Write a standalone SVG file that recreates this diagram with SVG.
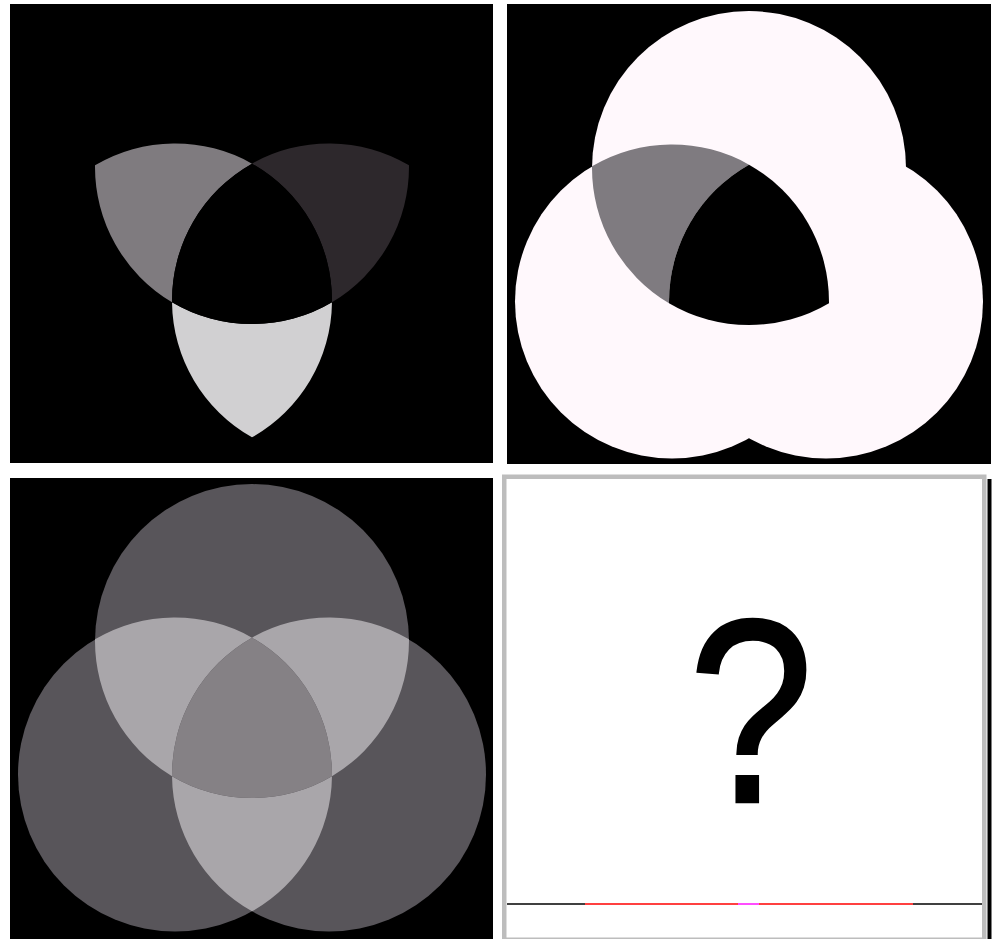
<svg xmlns="http://www.w3.org/2000/svg" xmlns:xlink="http://www.w3.org/1999/xlink" width="995" height="939" viewBox="0 0 995 939">
<style>
.bg{fill:#000}
.q{font-family:"Liberation Sans",Arial,sans-serif;font-size:262px;fill:#000;stroke:#000;stroke-width:2.5;text-anchor:middle}
</style>
<defs>
<circle id="cT" cx="252" cy="641.09" r="157"/>
<circle id="cL" cx="175" cy="774.46" r="157"/>
<circle id="cR" cx="329" cy="774.46" r="157"/>
<path id="center" d="M252,637.64 A157,157 0 0,1 331.98,776.18 A157,157 0 0,1 172.02,776.18 A157,157 0 0,1 252,637.64 Z"/>
<path id="lensTL" d="M95.01,639.36 A157,157 0 0,1 252,637.64 A157,157 0 0,0 172.02,776.18 A157,157 0 0,1 95.01,639.36 Z"/>
<path id="lensTR" d="M408.99,639.36 A157,157 0 0,0 252,637.64 A157,157 0 0,1 331.98,776.18 A157,157 0 0,0 408.99,639.36 Z"/>
<path id="lensB" d="M172.02,776.18 A157,157 0 0,0 331.98,776.18 A157,157 0 0,1 252,911.28 A157,157 0 0,1 172.02,776.18 Z"/>
<clipPath id="clipBL"><rect x="10" y="478" width="483" height="461"/></clipPath>
</defs>
<rect width="995" height="939" fill="#fff"/>

<g id="panel-top-left">
<rect class="bg" x="10" y="4" width="483" height="459"/>
<g transform="translate(0,-474)" clip-path="url(#clipBL)">
<use xlink:href="#lensTL" fill="#7f7b7f"/>
<use xlink:href="#lensTR" fill="#2d282c"/>
<use xlink:href="#lensB" fill="#d1d0d2"/>
<use xlink:href="#center" fill="#000"/>
</g>
</g>

<g id="panel-top-right">
<rect class="bg" x="507" y="4" width="484" height="460"/>
<g transform="translate(497,-473)">
<use xlink:href="#cT" fill="#fff8fc"/>
<use xlink:href="#cL" fill="#fff8fc"/>
<use xlink:href="#cR" fill="#fff8fc"/>
<use xlink:href="#lensTL" fill="#7f7b80"/>
<use xlink:href="#center" fill="#000"/>
</g>
</g>

<g id="panel-bottom-left">
<rect class="bg" x="10" y="478" width="483" height="461"/>
<g clip-path="url(#clipBL)">
<use xlink:href="#cT" fill="#58555a"/>
<use xlink:href="#cL" fill="#58555a"/>
<use xlink:href="#cR" fill="#58555a"/>
<use xlink:href="#lensTL" fill="#a9a6aa"/>
<use xlink:href="#lensTR" fill="#a9a6aa"/>
<use xlink:href="#lensB" fill="#a9a6aa"/>
<use xlink:href="#center" fill="#858185"/>
</g>
</g>

<g id="panel-bottom-right">
<rect x="504.25" y="476.75" width="480" height="463" fill="#fff" stroke="#bdbdbd" stroke-width="4.5"/>
<rect x="987.5" y="479" width="4" height="460" fill="#000"/>
<text class="q" transform="translate(751,802) scale(0.86,1)" x="0" y="0">?</text>
<g stroke-width="1.4" fill="none">
<line x1="507" y1="904" x2="585" y2="904" stroke="#000"/>
<line x1="585" y1="904" x2="738" y2="904" stroke="#ff0000"/>
<line x1="738" y1="904" x2="759" y2="904" stroke="#ff00ff"/>
<line x1="759" y1="904" x2="913" y2="904" stroke="#ff0000"/>
<line x1="913" y1="904" x2="982" y2="904" stroke="#000"/>
</g>
</g>
</svg>
